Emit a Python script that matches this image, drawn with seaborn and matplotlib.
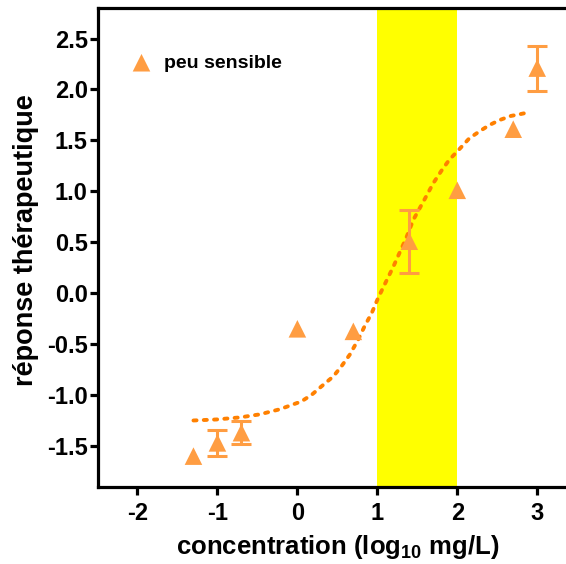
import matplotlib
matplotlib.use("Agg")
import matplotlib.pyplot as plt
import seaborn as sns
import pandas as pd

# Data
conc_log = [-1.30, -1.00, -0.70, 0.00, 0.70, 1.40, 2.00, 2.70, 3.00]
response = [-1.60, -1.47, -1.37, -0.35, -0.375, 0.51, 1.01, 1.61, 2.21]
resp_err = [0.0, 0.124, 0.11, 0.0, 0.0, 0.31, 0.0, 0.0, 0.22]

fit_x = [-1.30, -1.01, -0.72, -0.47, -0.22, 0.05, 0.18, 0.30, 0.45, 0.55,
         0.655, 0.76, 0.84, 0.93, 1.01, 1.09, 1.20, 1.36, 1.45, 1.59,
         1.70, 1.80, 1.90, 2.01, 2.15, 2.28, 2.40, 2.53, 2.67, 2.80, 2.92]
fit_y = [-1.25, -1.24, -1.22, -1.19, -1.14, -1.063, -0.997, -0.916, -0.817, -0.719,
         -0.604, -0.457, -0.326, -0.195, -0.047, 0.083, 0.26, 0.54, 0.72, 0.92,
         1.08, 1.20, 1.31, 1.40, 1.52, 1.59, 1.65, 1.70, 1.74, 1.76, 1.78]

band = [1.0, 2.0]
series_name = "peu sensible"
x_ticks = [-2, -1, 0, 1, 2, 3]
y_ticks = [-1.5, -1.0, -0.5, 0.0, 0.5, 1.0, 1.5, 2.0, 2.5]

sns.set_style("ticks")
plt.rcParams['font.family'] = ['Liberation Sans', 'DejaVu Sans']
plt.rcParams['font.weight'] = 'bold'
plt.rcParams['text.color'] = 'black'
plt.rcParams['axes.labelcolor'] = 'black'
plt.rcParams['xtick.color'] = 'black'
plt.rcParams['ytick.color'] = 'black'
plt.rcParams['mathtext.fontset'] = 'custom'
plt.rcParams['mathtext.rm'] = 'Liberation Sans:bold'
plt.rcParams['mathtext.it'] = 'Liberation Sans:bold'
plt.rcParams['mathtext.bf'] = 'Liberation Sans:bold'
plt.rcParams['mathtext.default'] = 'rm'

marker_color = "#FF9D42"
line_color = "#FF8000"

fig = plt.figure(figsize=(5.66, 5.64), dpi=100)
ax = fig.add_axes([0.1723, 0.1371, 0.8277, 0.8487])

ax.axvspan(band[0], band[1], color="#FFFF00", zorder=0, lw=0)

df_pts = pd.DataFrame({"x": conc_log, "y": response, "err": resp_err})
df_fit = pd.DataFrame({"x": fit_x, "y": fit_y})

sns.lineplot(data=df_fit, x="x", y="y", ax=ax, color=line_color, lw=2.8,
             linestyle=(0, (0.8, 1.85)), dash_capstyle="round", zorder=3)

err_df = df_pts[df_pts["err"] > 0]
ax.errorbar(err_df["x"], err_df["y"], yerr=err_df["err"], fmt="none",
            ecolor=marker_color, elinewidth=2.2, capsize=7, capthick=2.2, zorder=4)

sns.scatterplot(data=df_pts, x="x", y="y", ax=ax, marker="^", s=160,
                color=marker_color, edgecolor="none", zorder=5, label=series_name)

ax.set_xlim(-2.5, 3.36)
ax.set_ylim(-1.90, 2.80)
ax.set_xticks(x_ticks)
ax.set_yticks(y_ticks)
ax.set_xticklabels([str(t) for t in x_ticks])
ax.set_yticklabels([f"{t:.1f}" for t in y_ticks])

for s in ["left", "bottom", "top"]:
    ax.spines[s].set_linewidth(2.3)
    ax.spines[s].set_color("black")
ax.spines["right"].set_visible(False)
ax.tick_params(axis="both", direction="out", length=6, width=2.3,
               labelsize=17, pad=1, colors="black")
ax.tick_params(axis="x", pad=5)
for lab in ax.get_xticklabels() + ax.get_yticklabels():
    lab.set_fontweight("bold")

ax.set_xlabel("concentration (log$_{10}$ mg/L)", fontsize=18.5, fontweight="bold",
              labelpad=6, color="black")
ax.set_ylabel("réponse thérapeutique", fontsize=19.5, fontweight="bold",
              labelpad=6, color="black")
ax.xaxis.label.set_x(0.513)
ax.yaxis.label.set_y(0.516)

leg = ax.legend(loc="upper left", bbox_to_anchor=(0.015, 0.94), frameon=False,
                prop={"weight": "bold", "size": 14}, handletextpad=0.15,
                markerscale=1.0)
for t in leg.get_texts():
    t.set_color("black")

fig.savefig("out.png", dpi=100)
